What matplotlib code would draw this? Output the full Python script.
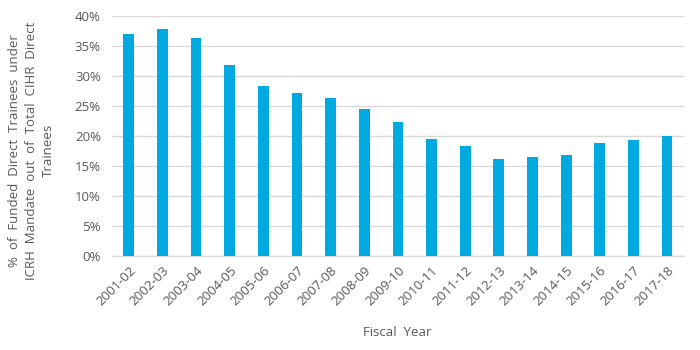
import matplotlib
matplotlib.use("Agg")
import matplotlib.pyplot as plt
from matplotlib.ticker import PercentFormatter

years = ["2001-02", "2002-03", "2003-04", "2004-05", "2005-06", "2006-07",
         "2007-08", "2008-09", "2009-10", "2010-11", "2011-12", "2012-13",
         "2013-14", "2014-15", "2015-16", "2016-17", "2017-18"]
share = [37.0, 37.8, 36.4, 31.8, 28.3, 27.1, 26.3, 24.5, 22.4, 19.5,
         18.3, 16.1, 16.5, 16.8, 18.8, 19.3, 20.0]
yticks = [0, 5, 10, 15, 20, 25, 30, 35, 40]

BAR = "#00A9E0"
GRID = "#D9D9D9"
TEXT = "#595959"

plt.rcParams["font.family"] = ["Open Sans", "DejaVu Sans"]

fig = plt.figure(figsize=(7, 3.5), dpi=100)
ax = fig.add_axes([0.16, 0.269, 0.817, 0.685])

x = range(len(years))
ax.bar(x, share, width=0.32, color=BAR, zorder=3)

ax.set_xlim(-0.5, len(years) - 0.5)
ax.set_ylim(0, 40)
ax.set_yticks(yticks)
ax.yaxis.set_major_formatter(PercentFormatter(decimals=0))
ax.set_xticks(list(x))
ax.set_xticklabels(years, rotation=45, ha="right", rotation_mode="anchor")

ax.grid(axis="y", color=GRID, linewidth=1, zorder=0)
for side in ("top", "right", "left"):
    ax.spines[side].set_visible(False)
ax.spines["bottom"].set_color(GRID)
ax.spines["bottom"].set_linewidth(1)
ax.tick_params(axis="both", length=0, colors=TEXT, labelsize=9.5)
ax.tick_params(axis="y", pad=8)
ax.tick_params(axis="x", pad=6)

# axis titles placed in figure coords (Excel-style offsets)
fig.text(0.567, 0.051, "Fiscal  Year", color=TEXT, fontsize=9.5,
         ha="center", va="center")
fig.text(0.045, 0.57,
         "%  of  Funded  Direct  Trainees  under\n"
         "ICRH  Mandate  out  of  Total  CIHR  Direct\n"
         "Trainees", color=TEXT, fontsize=9.5, rotation=90,
         ha="center", va="center", multialignment="center",
         linespacing=1.35)

fig.savefig("out.png", dpi=100)
